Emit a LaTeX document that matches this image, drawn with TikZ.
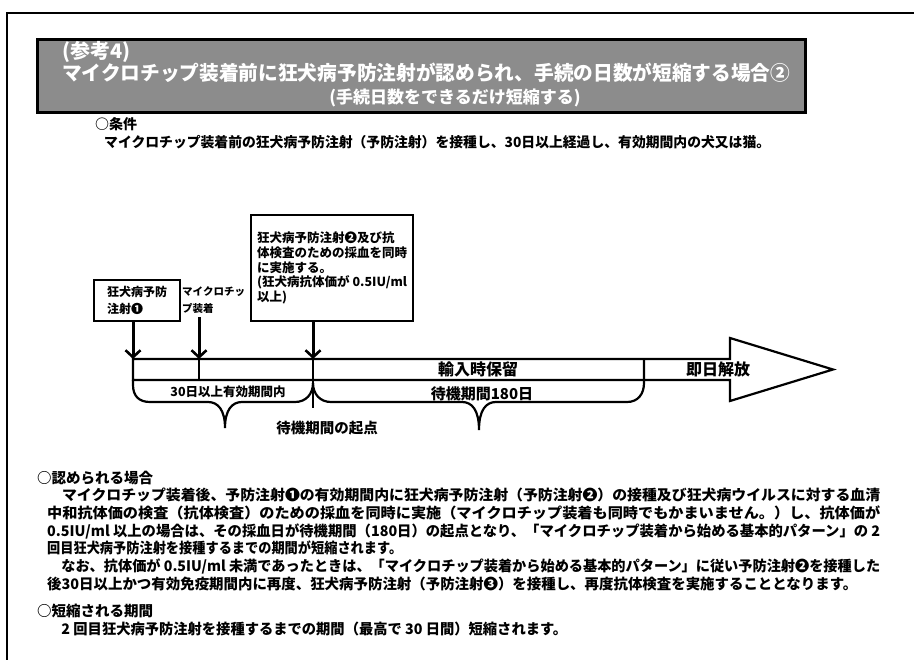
\documentclass[tikz,border=0pt]{standalone}
\usepackage{fontspec}
\usepackage{graphicx}
\setmainfont{Noto Sans CJK JP}
\usetikzlibrary{arrows.meta}
\newcommand{\fsz}[2]{\fontsize{#1}{#2}\selectfont}
\newsavebox\fitbox
\newcommand{\fitto}[2]{\sbox\fitbox{#2}\pgfmathsetmacro\fitr{#1/\the\wd\fitbox}\scalebox{\fitr}[1]{\usebox\fitbox}}
\begin{document}
\begin{tikzpicture}[x=1pt,y=-1pt,
  frameline/.style={line width=2pt},
  titlebox/.style={draw=black, line width=3pt, fill=black!45},
  box/.style={draw, line width=2.3pt, inner sep=0pt},
  bandline/.style={line width=2.2pt, line join=miter},
  arr/.style={line width=3pt, -{Straight Barb[length=7pt,width=15pt,line width=2.6pt]}},
  ln/.style={anchor=base west, inner sep=0pt, font=\bfseries\fsz{14.5}{18}},
  cond/.style={anchor=base west, inner sep=0pt, font=\bfseries\fsz{14}{18}},
  ttl/.style={inner sep=0pt, text=white},
  lbl/.style={anchor=base, inner sep=0pt},
  ]
\useasboundingbox (0,0) rectangle (914,660);
% outer frame
\draw[frameline] (914,13) -- (7,13) -- (7,660);
% title box
\draw[titlebox] (37,40) rectangle (805,113);
\node[ttl, anchor=base west, font=\bfseries\fsz{20}{22}] (t1) at (62,59) {(参考4)};
\node[ttl, anchor=base west, font=\bfseries\fsz{20}{22}] (t2) at (62,81) {\fitto{728}{マイクロチップ装着前に狂犬病予防注射が認められ、手続の日数が短縮する場合②}};
\node[ttl, anchor=base, font=\bfseries\fsz{17}{20}] (t3) at (455,104) {(手続日数をできるだけ短縮する)};
% condition
\node[cond] (c1) at (95,130) {○条件};
\node[cond] (c2) at (104,148) {\fitto{666}{マイクロチップ装着前の狂犬病予防注射（予防注射）を接種し、30日以上経過し、有効期間内の犬又は猫。}};
% boxes
\node[box, anchor=north west, minimum width=86pt, minimum height=41pt, align=left, font=\bfseries\fsz{12}{17}] (b1) at (93,279) {狂犬病予防\\注射❶};
\node[anchor=north west, inner sep=0pt, align=left, font=\bfseries\fsz{10.5}{17}] (chip) at (182,286) {マイクロチッ\\プ装着};
\node[box, inner xsep=6pt, anchor=north west, minimum width=160pt, minimum height=106pt, align=left, font=\bfseries\fsz{12.5}{14.7}] (b3) at (250,214) {狂犬病予防注射❷及び抗\\体検査のための採血を同時\\に実施する。\\(狂犬病抗体価が 0.5IU/ml\\以上)};
% band coordinates
\coordinate (a1) at (133,359);
\coordinate (a2) at (199,359);
\coordinate (a3) at (313,359);
\coordinate (a4) at (644,359);
% band with arrow head
\draw[bandline] (133,359) -- (730,359) -- (730,338) -- (833,369.5) -- (730,401) -- (730,380) -- (133,380) -- cycle;
\draw[bandline] (a2) -- (199,380);
\draw[bandline] (a3) -- (313,408);
% braces
\draw[bandline] (133,380) -- (133,385) .. controls (133,396) and (139,402) .. (150,402) -- (208,402) .. controls (218,402) and (225,410) .. (225,428) .. controls (225,410) and (232,402) .. (242,402) -- (295,402) .. controls (306,402) and (313,394) .. (313,383);
\draw[bandline] (313,383) .. controls (313,394) and (320,402) .. (331,402) -- (462,402) .. controls (472,402) and (479,410) .. (479,430) .. controls (479,410) and (486,402) .. (496,402) -- (627,402) .. controls (638,402) and (644,394) .. (644,383) -- (a4);
% arrows
\draw[arr] (b1.south -| a1) -- (a1);
\draw[arr] ([yshift=-4pt]chip.south -| a2) -- (a2);
\draw[arr] (b3.south -| a3) -- (a3);
% labels
\node[lbl, font=\bfseries\fsz{16}{18}] (l1) at (478,376) {輸入時保留};
\node[lbl, font=\bfseries\fsz{16}{18}] (l2) at (718,376) {即日解放};
\node[lbl, font=\bfseries\fsz{15}{18}] (l3) at (482,399.5) {待機期間180日};
\node[lbl, font=\bfseries\fsz{12.5}{15}] (l4) at (228,396.5) {30日以上有効期間内};
\node[lbl, font=\bfseries\fsz{14.5}{17}] (l5) at (327,433.5) {待機期間の起点};
% body text
\node[ln] (p0) at (37,483.5) {○認められる場合};
\node[ln] (p1) at (47,500.5) {\fitto{833}{　マイクロチップ装着後、予防注射❶の有効期間内に狂犬病予防注射（予防注射❷）の接種及び狂犬病ウイルスに対する血清}};
\node[ln] (p2) at (47,518.5) {\fitto{833}{中和抗体価の検査（抗体検査）のための採血を同時に実施（マイクロチップ装着も同時でもかまいません。）し、抗体価が}};
\node[ln] (p3) at (47,536.5) {\fitto{833}{0.5IU/ml 以上の場合は、その採血日が待機期間（180日）の起点となり、「マイクロチップ装着から始める基本的パターン」の 2}};
\node[ln] (p4) at (47,553.5) {\fitto{355}{回目狂犬病予防注射を接種するまでの期間が短縮されます。}};
\node[ln] (p5) at (47,571.5) {\fitto{833}{　なお、抗体価が 0.5IU/ml 未満であったときは、「マイクロチップ装着から始める基本的パターン」に従い予防注射❷を接種した}};
\node[ln] (p6) at (47,589.5) {\fitto{810}{後30日以上かつ有効免疫期間内に再度、狂犬病予防注射（予防注射❸）を接種し、再度抗体検査を実施することとなります。}};
\node[ln] (q0) at (37,616.5) {○短縮される期間};
\node[ln] (q1) at (47,634.5) {\fitto{520}{　2 回目狂犬病予防注射を接種するまでの期間（最高で 30 日間）短縮されます。}};
\end{tikzpicture}
\end{document}
